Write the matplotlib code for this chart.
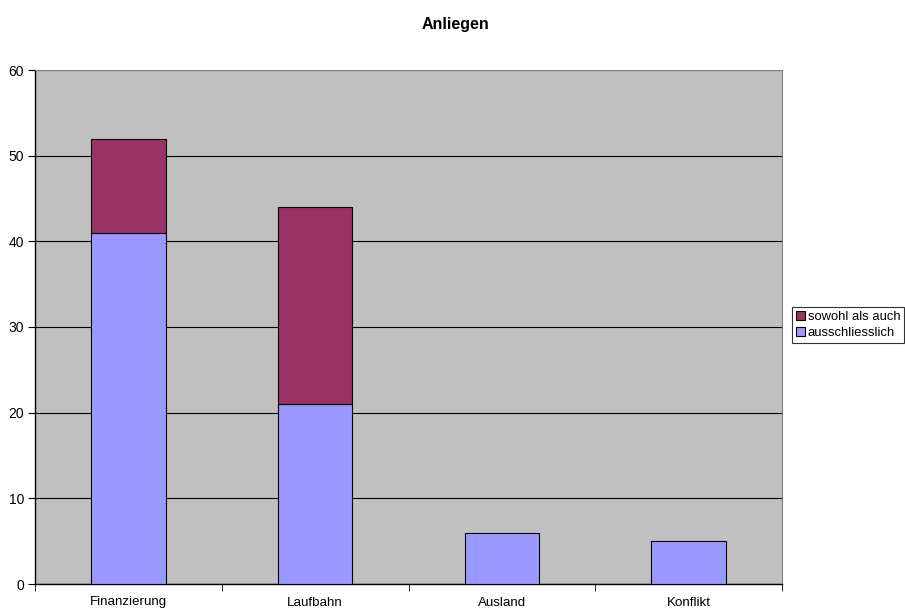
import matplotlib
matplotlib.use("Agg")
import matplotlib.pyplot as plt
import numpy as np

categories = ["Finanzierung", "Laufbahn", "Ausland", "Konflikt"]
ausschliesslich = [41, 21, 6, 5]
sowohl_als_auch = [11, 23, 0, 0]

plt.rcParams['font.family'] = ['Liberation Sans', 'DejaVu Sans']

fig = plt.figure(figsize=(9.05, 6.1), dpi=100)
ax = fig.add_axes([35/905, 1-584/610, (782-35)/905, (584-70)/610])
ax.set_facecolor('#C0C0C0')

x = np.arange(len(categories))
b1 = ax.bar(x, ausschliesslich, width=0.4, color='#9999FF', edgecolor='black', linewidth=0.8, label='ausschliesslich', zorder=3)
b2 = ax.bar(x, sowohl_als_auch, width=0.4, bottom=ausschliesslich, color='#993366', edgecolor='black', linewidth=0.8, label='sowohl als auch', zorder=3)
for r, v in zip(b2, sowohl_als_auch):
    if v == 0:
        r.set_visible(False)

ax.set_xlim(-0.5, len(categories) - 0.5)
ax.set_ylim(0, 60)
ax.set_yticks(range(0, 61, 10))
ax.yaxis.grid(True, color='black', linewidth=0.8, zorder=1)
ax.set_axisbelow(True)

ax.set_xticks(x)
ax.set_xticklabels(categories, fontsize=9.6)
ax.tick_params(axis='x', length=0, pad=9)
ax.set_xticks(np.arange(-0.5, len(categories) + 0.5, 1), minor=True)
ax.tick_params(axis='x', which='minor', length=5, direction='out', color='black')
ax.tick_params(axis='y', labelsize=10, length=5, direction='out', pad=3)

for s in ['top', 'right']:
    ax.spines[s].set_color('#808080')
    ax.spines[s].set_linewidth(0.8)
for s in ['left', 'bottom']:
    ax.spines[s].set_color('black')
    ax.spines[s].set_linewidth(1.0)

fig.text(455/905, 1-24/610, "Anliegen", ha='center', va='center', fontsize=11.5, fontweight='bold')

handles = [b2, b1]
labels = ['sowohl als auch', 'ausschliesslich']
leg = fig.legend(handles, labels, loc='upper left', bbox_to_anchor=(792/905, 1-307/610),
                 fontsize=9.4, frameon=True, fancybox=False, edgecolor='black',
                 handlelength=0.7, handleheight=0.7, handletextpad=0.2, borderpad=0.3,
                 labelspacing=0.3, borderaxespad=0)
leg.get_frame().set_linewidth(0.8)

fig.savefig("out.png", dpi=100)
